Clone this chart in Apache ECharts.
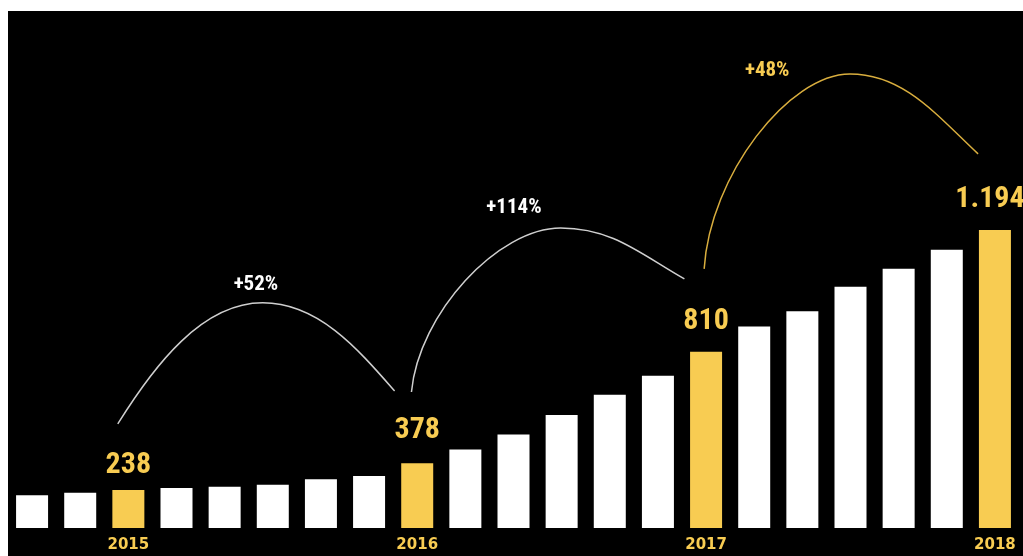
<!DOCTYPE html>
<html>
<head>
<meta charset="utf-8">
<script src="https://cdn.jsdelivr.net/npm/echarts@6/dist/echarts.min.js"></script>
<style>
  html, body { margin: 0; padding: 0; background: #fff; width: 1023px; height: 556px; overflow: hidden; }
  #chart { position: absolute; left: 8px; top: 11px; width: 1015px; height: 545px; background: #000; }
</style>
</head>
<body>
<div id="chart"></div>
<script>
// bimonthly periods, one bar each
const periods = ['2014-09', '2014-11', '2015-01', '2015-03', '2015-05', '2015-07', '2015-09',
  '2015-11', '2016-01', '2016-03', '2016-05', '2016-07', '2016-09', '2016-11', '2017-01',
  '2017-03', '2017-05', '2017-07', '2017-09', '2017-11', '2018-01']
// bar heights as drawn (the picture is not to scale, last bar = 1194)
const values = [131, 141, 152, 160, 165, 173, 195, 208, 259, 315, 375, 453, 534, 610, 706,
  807, 868, 967, 1039, 1115, 1194]
const yearLabels = ['', '', '2015', '', '', '', '', '', '2016', '', '', '', '', '', '2017',
  '', '', '', '', '', '2018']
const highlightIdx = [2, 8, 14, 20]
const valueLabels = ['238', '378', '810', '1.194']
const growthLabels = ['+52%', '+114%', '+48%']

// arc anchors in data space [bar position, value]
const arcStart = [[1.78, 417], [7.88, 545], [13.96, 1038]]
const arcTop = [[4.79, 902], [10.98, 1202], [16.99, 1819]]
const arcEnd = [[7.53, 549], [13.55, 998], [19.65, 1499]]
const growthTextAt = [[4.65, 976], [10.01, 1285], [15.27, 1833]]

const YELLOW = '#F8CC52'
const NARROW = "'Liberation Sans Narrow', 'Roboto Condensed', 'DejaVu Sans Condensed', sans-serif"
const labelGap = [10, 18, 15, 15]
const labelShift = [0, 0, 0, -5]
const arcBend = [[0.25, 0.28], [0.05, 0.35], [0.04, 0.32]]

const chart = echarts.init(document.getElementById('chart'))

const barData = values.map((v, i) => {
  const h = highlightIdx.indexOf(i)
  if (h < 0) return v
  return {
    value: v,
    itemStyle: { color: YELLOW },
    label: { show: true, distance: labelGap[h], offset: [labelShift[h], 0] }
  }
})

function renderArc(params, api) {
  const i = params.dataIndex
  const p0 = api.coord(arcStart[i])
  const pk = api.coord(arcTop[i])
  const p3 = api.coord(arcEnd[i])
  const t = api.coord(growthTextAt[i])
  const [k0, k1] = arcBend[i]
  const cs = 0.48  // side handles
  const ct = 0.42  // handles at the top
  const d = 'M' + p0[0] + ',' + p0[1] +
    ' C' + (p0[0] + k0 * (pk[0] - p0[0])) + ',' + (p0[1] - cs * (p0[1] - pk[1])) +
    ' ' + (pk[0] - ct * (pk[0] - p0[0])) + ',' + pk[1] +
    ' ' + pk[0] + ',' + pk[1] +
    ' C' + (pk[0] + ct * (p3[0] - pk[0])) + ',' + pk[1] +
    ' ' + (p3[0] - k1 * (p3[0] - pk[0])) + ',' + (p3[1] - cs * (p3[1] - pk[1])) +
    ' ' + p3[0] + ',' + p3[1]
  const isLast = i === growthLabels.length - 1
  return {
    type: 'group',
    children: [
      {
        type: 'path',
        shape: { pathData: d },
        style: { fill: 'none', stroke: isLast ? '#D9AE3E' : '#cfcfcf', lineWidth: 1.5 }
      },
      {
        type: 'text',
        x: t[0],
        y: t[1],
        style: {
          text: growthLabels[i],
          fill: isLast ? YELLOW : '#fff',
          font: 'bold 21px ' + NARROW,
          align: 'center',
          verticalAlign: 'middle'
        }
      }
    ]
  }
}

chart.setOption({
  animation: false,
  backgroundColor: '#000',
  grid: { left: -1, right: 4, top: 17.8, bottom: 28 },
  xAxis: [
    {
      type: 'category',
      data: periods,
      axisLine: { show: false },
      axisTick: { show: false },
      axisLabel: {
        interval: 0,
        margin: 10,
        color: YELLOW,
        fontFamily: "'DejaVu Sans', sans-serif",
        fontWeight: 'bold',
        fontSize: 15,
        formatter: (v, i) => yearLabels[i]
      }
    },
    { type: 'value', min: -0.5, max: 20.5, show: false }
  ],
  yAxis: { type: 'value', min: 0, max: 2000, show: false },
  series: [
    {
      type: 'bar',
      data: barData,
      barWidth: 32,
      itemStyle: { color: '#fff' },
      label: {
        show: false,
        position: 'top',
        color: YELLOW,
        fontFamily: NARROW,
        fontWeight: 'bold',
        fontSize: 30,
        formatter: p => valueLabels[highlightIdx.indexOf(p.dataIndex)]
      }
    },
    {
      type: 'custom',
      xAxisIndex: 1,
      silent: true,
      clip: false,
      data: arcTop,
      renderItem: renderArc
    }
  ]
})
</script>
</body>
</html>
